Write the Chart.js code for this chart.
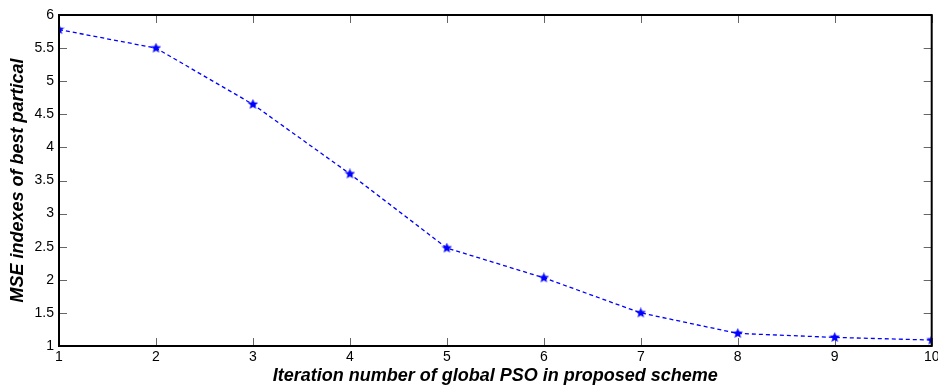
<!DOCTYPE html>
<html>
<head>
<meta charset="utf-8">
<script src="https://cdn.jsdelivr.net/npm/chart.js@4.4.1/dist/chart.umd.min.js"></script>
<style>
  html, body { margin: 0; padding: 0; background: #fff; }
</style>
</head>
<body>
<canvas id="chart" width="938" height="387"></canvas>
<script>
// chart data
var iterations = [1, 2, 3, 4, 5, 6, 7, 8, 9, 10];
var mseValues = [5.78, 5.50, 4.65, 3.60, 2.48, 2.03, 1.50, 1.19, 1.13, 1.09];
var xTicks = [1, 2, 3, 4, 5, 6, 7, 8, 9, 10];
var yTicks = [1, 1.5, 2, 2.5, 3, 3.5, 4, 4.5, 5, 5.5, 6];

var FONT = "'Liberation Sans', Arial, sans-serif";

// filled star marker like the matlab figure
function makeStar(size, color) {
    var c = document.createElement('canvas');
    c.width = size; c.height = size;
    var g = c.getContext('2d');
    var cx = size / 2, cy = size / 2, R = size / 2, r = R * 0.45;
    g.beginPath();
    for (var i = 0; i < 10; i++) {
        var a = -Math.PI / 2 + i * Math.PI / 5;
        var rad = i % 2 === 0 ? R : r;
        g.lineTo(cx + rad * Math.cos(a), cy + rad * Math.sin(a));
    }
    g.closePath();
    g.fillStyle = color;
    g.fill();
    return c;
}

// inward ticks on all four sides + box
var matlabBox = {
    id: 'matlabBox',
    beforeDatasetsDraw: function (chart) {
        var ctx = chart.ctx, a = chart.chartArea;
        var xs = chart.scales.x, ys = chart.scales.y;
        var len = 8;
        ctx.save();
        ctx.strokeStyle = '#666';
        ctx.lineWidth = 1;
        ctx.beginPath();
        xTicks.forEach(function (v) {
            var px = Math.round(xs.getPixelForValue(v)) + 0.5;
            ctx.moveTo(px, a.bottom); ctx.lineTo(px, a.bottom - len);
            ctx.moveTo(px, a.top); ctx.lineTo(px, a.top + len);
        });
        yTicks.forEach(function (v) {
            var py = Math.round(ys.getPixelForValue(v)) + 0.5;
            ctx.moveTo(a.left, py); ctx.lineTo(a.left + len, py);
            ctx.moveTo(a.right, py); ctx.lineTo(a.right - len, py);
        });
        ctx.stroke();
        ctx.restore();
    },
    afterDraw: function (chart) {
        var ctx = chart.ctx, a = chart.chartArea;
        ctx.save();
        ctx.strokeStyle = '#000';
        ctx.lineWidth = 2;
        ctx.strokeRect(a.left, a.top, a.right - a.left, a.bottom - a.top);
        ctx.restore();
    }
};

var ctx = document.getElementById('chart').getContext('2d');
var chart = new Chart(ctx, {
    type: 'line',
    data: {
        datasets: [{
            data: iterations.map(function (x, i) { return { x: x, y: mseValues[i] }; }),
            borderColor: '#0000ff',
            borderWidth: 1.3,
            borderDash: [4, 3],
            pointStyle: makeStar(11, '#0000ff'),
            pointRadius: 5,
            tension: 0,
            fill: false
        }]
    },
    options: {
        responsive: false,
        devicePixelRatio: 1,
        animation: false,
        layout: { padding: { top: 15, right: 4, left: 0, bottom: 0 } },
        plugins: {
            legend: { display: false },
            tooltip: { enabled: false }
        },
        scales: {
            x: {
                type: 'linear',
                min: 1,
                max: 10,
                afterBuildTicks: function (scale) {
                    scale.ticks = xTicks.map(function (v) { return { value: v }; });
                },
                afterFit: function (scale) {
                    scale.height = 41;
                    scale.paddingLeft = 0;
                    scale.paddingRight = 0;
                },
                grid: { display: false, drawTicks: false },
                border: { display: false },
                ticks: {
                    color: '#000',
                    padding: 3,
                    maxRotation: 0,
                    font: { family: FONT, size: 14 },
                    callback: function (v) { return String(v); }
                },
                title: {
                    display: true,
                    text: 'Iteration number of global PSO in proposed scheme',
                    color: '#000',
                    padding: { top: 0, bottom: 0 },
                    font: { family: FONT, size: 18, weight: 'bold', style: 'italic' }
                }
            },
            y: {
                type: 'linear',
                min: 1,
                max: 6,
                afterBuildTicks: function (scale) {
                    scale.ticks = yTicks.map(function (v) { return { value: v }; });
                },
                afterFit: function (scale) {
                    scale.width = 59;
                    scale.paddingTop = 0;
                    scale.paddingBottom = 0;
                },
                grid: { display: false, drawTicks: false },
                border: { display: false },
                ticks: {
                    color: '#000',
                    padding: 5,
                    font: { family: FONT, size: 14 },
                    callback: function (v) { return String(v); }
                },
                title: {
                    display: true,
                    text: 'MSE indexes of best partical',
                    color: '#000',
                    padding: { top: 7, bottom: 0 },
                    font: { family: FONT, size: 18, weight: 'bold', style: 'italic' }
                }
            }
        }
    },
    plugins: [matlabBox]
});
</script>
</body>
</html>
